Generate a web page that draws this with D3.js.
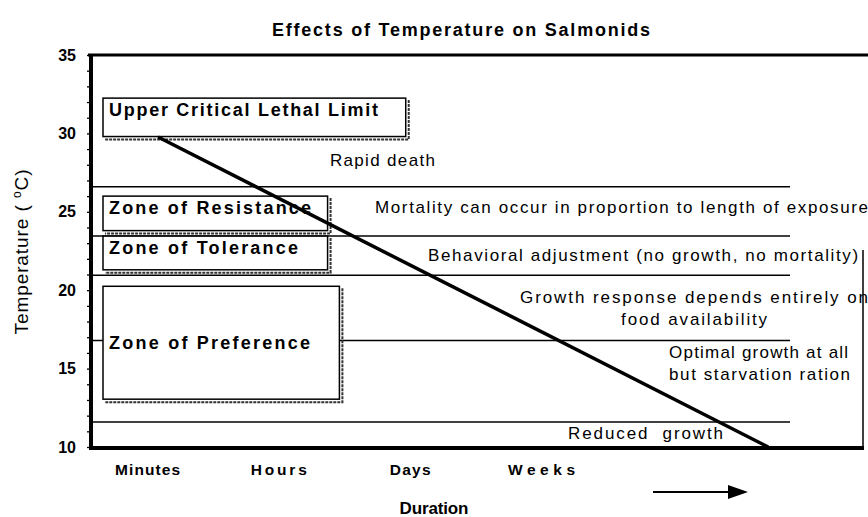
<!DOCTYPE html>
<html><head><meta charset="utf-8">
<script src="https://cdn.jsdelivr.net/npm/d3@7"></script>
<style>body{margin:0;background:#fff} svg{display:block;font-family:"Liberation Sans",Arial,sans-serif}</style>
</head><body><svg id="c" width="868" height="517"></svg>
<script>
// ---- data ----
const durations = ["Minutes", "Hours", "Days", "Weeks"];
const tempTicks = [10, 15, 20, 25, 30, 35];
const zoneBoundaries = [26.6, 23.45, 20.95, 16.8, 11.6];          // °C
const zoneNames = ["Upper Critical Lethal Limit", "Zone of Resistance", "Zone of Tolerance", "Zone of Preference"];
const zoneTop = [32.25, 26.0, 23.45, 20.25];                        // °C
const zoneBottom = [29.8, 23.8, 21.3, 13.05];                       // °C
const zoneStart = [-0.335, -0.335, -0.335, -0.335];                 // duration units (Minutes=0 … Weeks=3)
const zoneEnd = [1.97, 1.375, 1.375, 1.465];
const effectText = ["Rapid death", "Mortality can occur in proportion to length of exposure",
  "Behavioral adjustment (no growth, no mortality)", "Growth response depends entirely on",
  "food availability", "Optimal growth at all", "but starvation ration", "Reduced  growth"];
const effectDuration = [1.393, 1.736, 2.14, 2.84, 3.61, 3.975, 3.975, 3.206];
const effectTemp = [27.92, 24.92, 21.86, 19.18, 17.78, 15.68, 14.27, 10.51];
const limitLineDuration = [0.084, 4.73];
const limitLineTemp = [29.77, 10];

// ---- layout / style (not data) ----
const effectWidth = [105, 493, 430, 348, 146, 179, 181, 155];
const zoneLabelWidth = [269, 202, 189, 201];
const tickWidth = [65, 56, 41, 67];

const svg = d3.select("#c");
const y = d3.scaleLinear().domain([10, 35]).range([447, 55]);
const xd = d3.scaleLinear().domain([0, 3]).range([147, 541]);
const xCat = d3.scalePoint().domain(durations).range([xd(0), xd(3)]);
const plotLeft = 91, plotRight = 863, lineEnd = 4.896;

// title
svg.append("text").attr("x", 461).attr("y", 36).attr("text-anchor", "middle")
  .attr("font-size", 18).attr("font-weight", "bold").attr("textLength", 378).attr("lengthAdjust", "spacing")
  .text("Effects of Temperature on Salmonids");

// zone boundary lines
svg.append("g").selectAll("line").data(zoneBoundaries).join("line")
  .attr("x1", plotLeft).attr("x2", xd(lineEnd))
  .attr("y1", d => y(d)).attr("y2", d => y(d))
  .attr("stroke", "#000").attr("stroke-width", 1.5);

// zone boxes
const zones = zoneNames.map((n, i) => ({n, top: zoneTop[i], bottom: zoneBottom[i], s: zoneStart[i], e: zoneEnd[i], w: zoneLabelWidth[i], i}));
const zg = svg.append("g").selectAll("g").data(zones).join("g");
zg.append("rect")
  .attr("x", d => xd(d.s)).attr("y", d => y(d.top))
  .attr("width", d => xd(d.e) - xd(d.s)).attr("height", d => y(d.bottom) - y(d.top))
  .attr("fill", "#fff").attr("stroke", "#000").attr("stroke-width", 1.5);
zg.append("path")
  .attr("d", d => `M${xd(d.e) + 3},${y(d.top) + 2}V${y(d.bottom) + 3}H${xd(d.s) + 2}`)
  .attr("fill", "none").attr("stroke", "#333").attr("stroke-width", 2).attr("stroke-dasharray", "3,1");
zg.append("text")
  .attr("x", d => xd(d.s) + 6)
  .attr("y", d => d.i === 3 ? (y(d.top) + y(d.bottom)) / 2 + 6 : y(d.top) + 18)
  .attr("font-size", 18).attr("font-weight", "bold")
  .attr("textLength", d => d.w).attr("lengthAdjust", "spacing")
  .text(d => d.n);

// effects text
svg.append("g").selectAll("text").data(effectText).join("text")
  .attr("x", (d, i) => xd(effectDuration[i])).attr("y", (d, i) => y(effectTemp[i]))
  .attr("font-size", 17).attr("textLength", (d, i) => effectWidth[i]).attr("lengthAdjust", "spacing")
  .attr("xml:space", "preserve").style("white-space", "pre")
  .text(d => d);

// limit line
svg.append("line")
  .attr("x1", xd(limitLineDuration[0])).attr("y1", y(limitLineTemp[0]))
  .attr("x2", xd(limitLineDuration[1])).attr("y2", y(limitLineTemp[1]))
  .attr("stroke", "#000").attr("stroke-width", 3.5);

// frame
svg.append("line").attr("x1", 88).attr("x2", 868).attr("y1", y(35)).attr("y2", y(35)).attr("stroke", "#000").attr("stroke-width", 3);
svg.append("line").attr("x1", plotRight).attr("x2", plotRight).attr("y1", y(22.56)).attr("y2", y(10)).attr("stroke", "#000").attr("stroke-width", 1.5);
svg.append("line").attr("x1", 89).attr("x2", plotRight + 1).attr("y1", y(10) + 1).attr("y2", y(10) + 1).attr("stroke", "#000").attr("stroke-width", 4);

// y axis
const yAxis = d3.axisLeft(y).tickValues(d3.range(10, 36)).tickSize(4).tickPadding(11)
  .tickFormat(d => tempTicks.includes(d) ? d : "");
const ya = svg.append("g").attr("transform", `translate(${plotLeft},0)`).call(yAxis);
ya.select(".domain").attr("stroke-width", 4).attr("d", `M0,${y(35) - 1}V${y(10) + 3}`);
ya.selectAll(".tick line").attr("stroke-width", 1.3);
ya.selectAll(".tick text").attr("font-size", 16).attr("font-weight", "bold").attr("font-family", "Liberation Sans, Arial, sans-serif").attr("fill", "#000");

// y title
const yt = svg.append("text").attr("transform", "translate(28,252) rotate(-90)").attr("text-anchor", "middle")
  .attr("font-size", 19).attr("textLength", 165).attr("lengthAdjust", "spacing");
yt.append("tspan").text("Temperature ( ");
yt.append("tspan").attr("font-size", 12).attr("dy", -7).text("o");
yt.append("tspan").attr("dy", 7).text("C)");

// x axis labels
const xAxis = d3.axisBottom(xCat).tickSize(0).tickPadding(17);
const xa = svg.append("g").attr("transform", `translate(0,${y(10)})`).call(xAxis);
xa.select(".domain").remove();
xa.selectAll(".tick text").attr("font-size", 15.5).attr("font-weight", "bold").attr("fill", "#000")
  .attr("font-family", "Liberation Sans, Arial, sans-serif")
  .attr("textLength", (d, i) => tickWidth[i]).attr("lengthAdjust", "spacing");

// x title
svg.append("text").attr("x", 434).attr("y", 514).attr("text-anchor", "middle")
  .attr("font-size", 17).attr("font-weight", "bold").attr("textLength", 69).attr("lengthAdjust", "spacing")
  .text("Duration");

// arrow
svg.append("line").attr("x1", 653).attr("x2", 733).attr("y1", 492).attr("y2", 492).attr("stroke", "#000").attr("stroke-width", 2);
svg.append("path").attr("d", "M728,485L748,492L728,499Z").attr("fill", "#000");
</script></body></html>
